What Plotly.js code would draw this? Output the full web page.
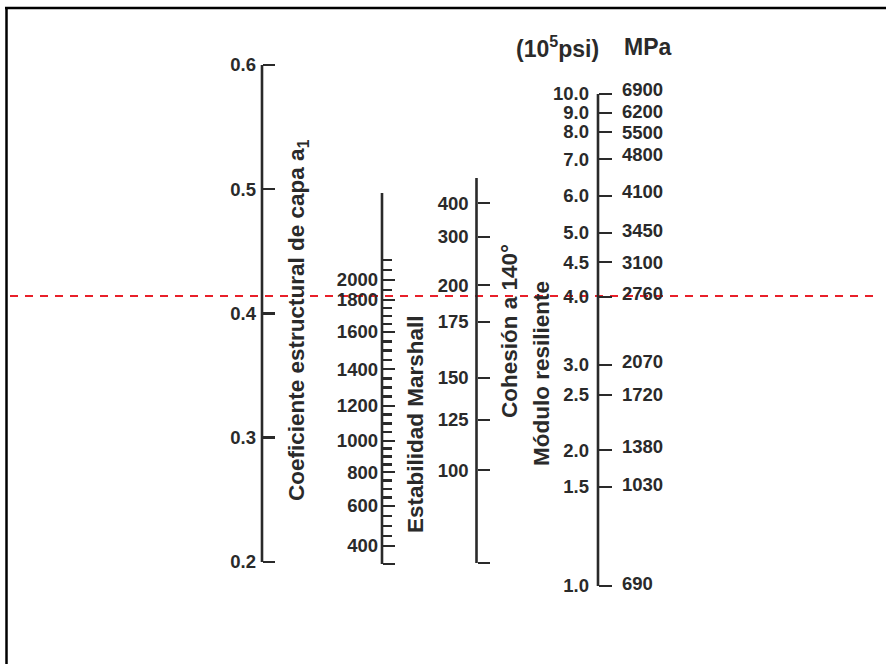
<!DOCTYPE html>
<html>
<head>
<meta charset="utf-8">
<script src="https://cdn.plot.ly/plotly-3.0.1.min.js"></script>
<style>html,body{margin:0;padding:0;background:#fff;}#chart{width:886px;height:664px;}</style>
</head>
<body>
<div id="chart"></div>
<script>
// Every scale is expressed through its equivalent on the a1 scale (horizontal reading)
const a1Ticks = [0.2, 0.3, 0.4, 0.5, 0.6];
const a1Labels = ['0.2', '0.3', '0.4', '0.5', '0.6'];

const marshallValues = [400, 600, 800, 1000, 1200, 1400, 1600, 1800, 2000];
const marshallA1 = [0.2129, 0.2451, 0.2724, 0.2974, 0.3256, 0.3553, 0.3851, 0.4109, 0.4270];
const marshallMinor = [450, 500, 550, 650, 700, 750, 850, 900, 950, 1050, 1100, 1150,
                       1250, 1300, 1350, 1450, 1500, 1550, 1650, 1700, 1750, 1900, 2100, 2200];
const marshallExtentA1 = [0.1984, 0.4970];

const cohesionValues = [100, 125, 150, 175, 200, 300, 400];
const cohesionA1 = [0.2740, 0.3143, 0.3481, 0.3932, 0.4229, 0.4616, 0.4889];
const cohesionExtentA1 = [0.1992, 0.5091];

const psiLabels = ['1.0', '1.5', '2.0', '2.5', '3.0', '4.0', '4.5', '5.0', '6.0', '7.0', '8.0', '9.0', '10.0'];
const psiA1 = [0.1807, 0.2604, 0.2901, 0.3344, 0.3586, 0.4133, 0.4414, 0.4648, 0.4946, 0.5243, 0.5461, 0.5614, 0.5767];
const mpaLabels = ['690', '1030', '1380', '1720', '2070', '2760', '3100', '3450', '4100', '4800', '5500', '6200', '6900'];
const mpaA1 = [0.1823, 0.2620, 0.2926, 0.3344, 0.3610, 0.4157, 0.4414, 0.4664, 0.4978, 0.5276, 0.5453, 0.5622, 0.5799];

const lecturaA1 = 0.414;   // red dashed reading line

// ---- Layout constants ----
const W = 886, H = 664;
const yRange = [0.1179, 0.6523];          // vertical extent of the page in a1 units
const scaleX = {a1: 262, marshall: 382, cohesion: 476.5, modulo: 598};
const ink = '#2a2a2a';
const tickFont = {family: 'Liberation Sans, Arial, sans-serif', size: 18.5, color: ink, weight: 'bold'};
const titleFont = {family: 'Liberation Sans, Arial, sans-serif', size: 22.5, color: ink, weight: 'bold'};

function interp(xs, ys, v) {
  let i = 0;
  while (i < xs.length - 2 && v > xs[i + 1]) i++;
  const t = (v - xs[i]) / (xs[i + 1] - xs[i]);
  return ys[i] + t * (ys[i + 1] - ys[i]);
}

function scaleAxis(px, vals, text, extra) {
  return Object.assign({
    overlaying: 'y', anchor: 'free', position: px / W, side: 'left',
    range: yRange, autorange: false, tickmode: 'array', tickvals: vals, ticktext: text,
    ticks: 'inside', ticklen: 12, tickwidth: 2.5, tickcolor: ink,
    showline: false, showgrid: false, zeroline: false, fixedrange: true, visible: true,
    showticklabels: true, tickfont: tickFont, ticklabelstandoff: 2
  }, extra || {});
}
function tickOnlyAxis(px, vals, len) {
  return scaleAxis(px, vals, vals.map(String), {ticklen: len, showticklabels: false});
}

const lineStyle = {color: ink, width: 2.6};
function scaleLine(px, y0, y1, yax) {
  return {type: 'scatter', mode: 'lines', x: [px, px], y: [y0, y1], line: lineStyle,
          hoverinfo: 'skip', showlegend: false, xaxis: 'x', yaxis: yax};
}
function anchorTrace(yax) {
  return {type: 'scatter', mode: 'markers', x: [null], y: [null], xaxis: 'x', yaxis: yax,
          hoverinfo: 'skip', showlegend: false};
}

const traces = [
  scaleLine(scaleX.a1, Math.min(...a1Ticks), Math.max(...a1Ticks), 'y2'),
  scaleLine(scaleX.marshall, marshallExtentA1[0], marshallExtentA1[1], 'y3'),
  anchorTrace('y4'),
  scaleLine(scaleX.cohesion, cohesionExtentA1[0], cohesionExtentA1[1], 'y5'),
  scaleLine(scaleX.modulo, Math.min(...psiA1), Math.max(...psiA1), 'y6'),
  anchorTrace('y7'),
  anchorTrace('y8'),
  anchorTrace('y9'),
  {type: 'scatter', mode: 'lines', x: [10, 876], y: [lecturaA1, lecturaA1], xaxis: 'x', yaxis: 'y',
   line: {color: '#e8202a', width: 2, dash: '8px,7px'}, hoverinfo: 'skip', showlegend: false}
];

const marshallMinorA1 = marshallMinor.map(v => interp(marshallValues, marshallA1, v));

const layout = {
  width: W, height: H, margin: {l: 0, r: 0, t: 0, b: 0},
  paper_bgcolor: '#fff', plot_bgcolor: '#fff', showlegend: false, hovermode: false,
  xaxis: {range: [0, W], visible: false, fixedrange: true},
  yaxis: {range: yRange, visible: false, fixedrange: true},
  yaxis2: scaleAxis(scaleX.a1, a1Ticks, a1Labels, {ticklabelstandoff: 6}),
  yaxis3: scaleAxis(scaleX.marshall, marshallA1, marshallValues.map(String), {ticklabelstandoff: 4}),
  yaxis4: tickOnlyAxis(scaleX.marshall, marshallMinorA1, 9),
  yaxis5: scaleAxis(scaleX.cohesion, cohesionA1, cohesionValues.map(String), {ticklabelstandoff: 8}),
  yaxis6: scaleAxis(scaleX.modulo, psiA1, psiLabels, {ticklen: 13, ticklabelstandoff: 9}),
  yaxis7: scaleAxis(scaleX.modulo, mpaA1, mpaLabels, {side: 'right', ticks: '', ticklabelstandoff: 23}),
  yaxis8: tickOnlyAxis(scaleX.marshall, [marshallExtentA1[0]], 12),
  yaxis9: tickOnlyAxis(scaleX.cohesion, [cohesionExtentA1[0]], 12),
  annotations: [
    {text: 'Coeficiente estructural de capa a<sub>1</sub>', x: 298 / W, y: 1 - 320 / H},
    {text: 'Estabilidad Marshall', x: 416 / W, y: 1 - 424 / H},
    {text: 'Cohesión a 140°', x: 509 / W, y: 1 - 331 / H},
    {text: 'Módulo resiliente', x: 541 / W, y: 1 - 374 / H}
  ].map(a => Object.assign({xref: 'paper', yref: 'paper', textangle: -90, showarrow: false,
                            xanchor: 'center', yanchor: 'middle', font: titleFont}, a)).concat([
    {text: '(10<sup>5</sup>psi)', x: 557 / W, y: 1 - 47 / H, xref: 'paper', yref: 'paper',
     showarrow: false, xanchor: 'center', yanchor: 'middle', font: Object.assign({}, titleFont, {size: 23})},
    {text: 'MPa', x: 648 / W, y: 1 - 47 / H, xref: 'paper', yref: 'paper',
     showarrow: false, xanchor: 'center', yanchor: 'middle', font: Object.assign({}, titleFont, {size: 23})}
  ]),
  shapes: [
    {type: 'line', xref: 'paper', yref: 'paper', x0: 5 / W, x1: 1, y0: 1 - 8 / H, y1: 1 - 8 / H,
     line: {color: '#000', width: 2.5}},
    {type: 'line', xref: 'paper', yref: 'paper', x0: 6.5 / W, x1: 6.5 / W, y0: 0, y1: 1 - 7 / H,
     line: {color: '#000', width: 2.5}}
  ]
};

Plotly.newPlot('chart', traces, layout, {displayModeBar: false, staticPlot: true});
</script>
</body>
</html>
